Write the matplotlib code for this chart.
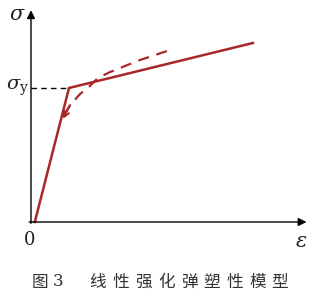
import matplotlib
matplotlib.use('Agg')
import matplotlib.pyplot as plt

plt.rcParams['font.family'] = ['Noto Sans CJK SC', 'DejaVu Sans']
plt.rcParams['mathtext.fontset'] = 'dejavuserif'

# 线性强化弹塑性模型 (单位为相对值, sigma_y = 1, eps_y = 1)
eps_model = [0.1, 1.0, 5.84]
sig_model = [0.0, 1.0, 1.336]

# 卸载/加载的虚线曲线
eps_curve = [0.87, 1.03, 1.29, 1.55, 1.76, 2.08, 2.47, 2.87, 3.58]
sig_curve = [0.80, 0.873, 0.955, 1.015, 1.075, 1.119, 1.164, 1.209, 1.276]

sigma_y = 1.0
eps_yield = 1.0

caption_fig = "图"
caption_num = "3"
caption_title = "线性强化弹塑性模型"

red = '#a8282a'

fig = plt.figure(figsize=(3.22, 3.0), dpi=100)
ax = fig.add_axes([0, 0, 1, 1])
ax.set_xlim(-31 / 38, 291 / 38)
ax.set_ylim(-78 / 134, 222 / 134)
ax.axis('off')

# 坐标轴 (带箭头)
ax.annotate('', xy=(7.25, 0), xytext=(-0.05, 0),
            arrowprops=dict(arrowstyle='-|>', color='black', lw=1.0,
                            mutation_scale=12, shrinkA=0, shrinkB=0))
ax.annotate('', xy=(0, 1.58), xytext=(0, -0.01),
            arrowprops=dict(arrowstyle='-|>', color='black', lw=1.0,
                            mutation_scale=12, shrinkA=0, shrinkB=0))

# 屈服应力的水平虚线
ax.plot([0, eps_yield], [sigma_y, sigma_y], color='black', lw=1.0,
        linestyle=(0, (4, 3)))

# 模型折线
ax.plot(eps_model, sig_model, color=red, lw=1.8, solid_joinstyle='miter')

# 虚线曲线 + 起点箭头
ax.plot(eps_curve, sig_curve, color=red, lw=1.6, linestyle=(0, (5, 3.5)))
ax.annotate('', xy=(eps_curve[0] - 0.03, sig_curve[0] - 0.03),
            xytext=(eps_curve[1], sig_curve[1]),
            arrowprops=dict(arrowstyle='->', color=red, lw=1.4,
                            mutation_scale=10, shrinkA=0, shrinkB=0))

# 标注
ax.text(-0.37, 1.55, r'$\sigma$', fontsize=15, ha='center', va='center',
        color='#222222')
ax.text(-0.36, sigma_y, r'$\sigma_{\mathrm{y}}$', fontsize=14, ha='center',
        va='center', color='#222222')
ax.text(-0.04, -0.135, '0', fontsize=13, ha='center', va='center',
        color='#222222', family='DejaVu Serif')
ax.text(7.1, -0.14, r'$\varepsilon$', fontsize=15, ha='center', va='center',
        color='#222222')

# 图题
cy = 1 - 282 / 300
fig.text(40 / 322, cy, caption_fig, fontsize=12, ha='center', va='center',
         color='#333333', fontweight='medium')
fig.text(58 / 322, cy, caption_num, fontsize=12, ha='center', va='center',
         color='#333333', family='DejaVu Serif')
for i, ch in enumerate(caption_title):
    fig.text((98 + 22.75 * i) / 322, cy, ch, fontsize=12, ha='center',
             va='center', color='#333333', fontweight='medium')

fig.savefig('out.png', dpi=100)
